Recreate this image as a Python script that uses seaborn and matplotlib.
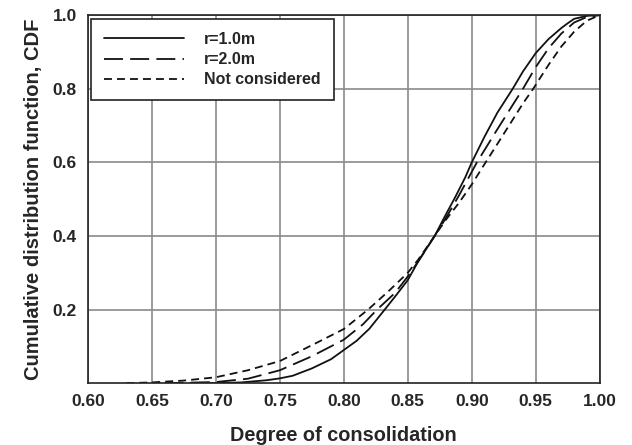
import matplotlib
matplotlib.use("Agg")
import matplotlib.pyplot as plt
import seaborn as sns
import pandas as pd

# Data
x_r1 = [0.68, 0.70, 0.72, 0.74, 0.75, 0.76, 0.775, 0.79, 0.80, 0.81, 0.82, 0.832, 0.84,
        0.85, 0.858, 0.871, 0.88, 0.887, 0.895, 0.90, 0.91, 0.92, 0.932, 0.94, 0.95,
        0.96, 0.97, 0.975, 0.98, 0.99, 1.00]
y_r1 = [0.0, 0.0, 0.002, 0.008, 0.013, 0.02, 0.04, 0.065, 0.09, 0.115, 0.148, 0.20, 0.235,
        0.28, 0.33, 0.40, 0.46, 0.505, 0.56, 0.60, 0.67, 0.735, 0.80, 0.847, 0.897,
        0.935, 0.965, 0.978, 0.99, 0.998, 1.0]

x_r2 = [0.66, 0.70, 0.725, 0.75, 0.775, 0.80, 0.815, 0.826, 0.84, 0.85, 0.858, 0.871,
        0.88, 0.89, 0.897, 0.904, 0.92, 0.93, 0.94, 0.95, 0.96, 0.97, 0.98, 0.99, 1.00]
y_r2 = [0.0, 0.003, 0.012, 0.035, 0.073, 0.118, 0.16, 0.20, 0.245, 0.29, 0.33, 0.40,
        0.45, 0.51, 0.555, 0.60, 0.69, 0.745, 0.80, 0.859, 0.91, 0.95, 0.98, 0.995, 1.0]

x_nc = [0.63, 0.65, 0.675, 0.70, 0.725, 0.75, 0.775, 0.80, 0.819, 0.835, 0.85, 0.858,
        0.871, 0.88, 0.89, 0.90, 0.909, 0.92, 0.93, 0.94, 0.948, 0.96, 0.97, 0.98,
        0.99, 1.00]
y_nc = [0.0, 0.002, 0.007, 0.016, 0.035, 0.06, 0.103, 0.147, 0.20, 0.25, 0.30, 0.335,
        0.40, 0.445, 0.49, 0.54, 0.59, 0.65, 0.705, 0.76, 0.80, 0.865, 0.915, 0.955,
        0.985, 1.0]

labels = ["r=1.0m", "r=2.0m", "Not considered"]
x_ticks = [0.60, 0.65, 0.70, 0.75, 0.80, 0.85, 0.90, 0.95, 1.00]
y_ticks = [0.2, 0.4, 0.6, 0.8, 1.0]

df = pd.concat([
    pd.DataFrame({"x": x_r1, "y": y_r1, "case": labels[0]}),
    pd.DataFrame({"x": x_r2, "y": y_r2, "case": labels[1]}),
    pd.DataFrame({"x": x_nc, "y": y_nc, "case": labels[2]}),
], ignore_index=True)

sns.set_style("white")
plt.rcParams["font.family"] = ["Liberation Sans", "DejaVu Sans"]
plt.rcParams["font.weight"] = "bold"

fig = plt.figure(figsize=(6.32, 4.45), dpi=100)
ax = fig.add_axes([0.139, 0.139, 0.810, 0.827])

dashes = {labels[0]: "", labels[1]: (10.5, 4), labels[2]: (4.4, 2.8)}
sns.lineplot(data=df, x="x", y="y", hue="case", style="case",
             palette={l: "#111111" for l in labels}, dashes=dashes,
             linewidth=1.3, ax=ax, sort=True, estimator=None)

ax.set_xlim(0.60, 1.00)
ax.set_ylim(0.0, 1.0)
ax.set_xticks(x_ticks)
ax.set_xticklabels([f"{t:.2f}" for t in x_ticks])
ax.set_yticks(y_ticks)
ax.set_yticklabels([f"{t:.1f}" for t in y_ticks])
ax.grid(True, color="#8a8a8a", linewidth=1.2)
ax.set_axisbelow(True)
for s in ax.spines.values():
    s.set_color("#222222")
    s.set_linewidth(1.2)
ax.tick_params(axis="both", labelsize=12.5, length=0, pad=8)
for lab in ax.get_xticklabels() + ax.get_yticklabels():
    lab.set_fontweight("bold")
ax.set_xlabel("Degree of consolidation", fontsize=14.3, fontweight="bold", labelpad=12)
ax.set_ylabel("Cumulative distribution function, CDF", fontsize=14.5,
              fontweight="bold", labelpad=7)

leg = ax.legend(loc="upper left", bbox_to_anchor=(0.006, 0.989), borderaxespad=0,
                frameon=True, handlelength=5.0, handletextpad=1.3,
                borderpad=0.8, labelspacing=0.33, fancybox=False,
                prop={"weight": "bold", "size": 11.5})
leg.get_frame().set_edgecolor("#222222")
leg.get_frame().set_linewidth(1.2)
leg.get_frame().set_alpha(1)

fig.savefig("out.png", dpi=100)
